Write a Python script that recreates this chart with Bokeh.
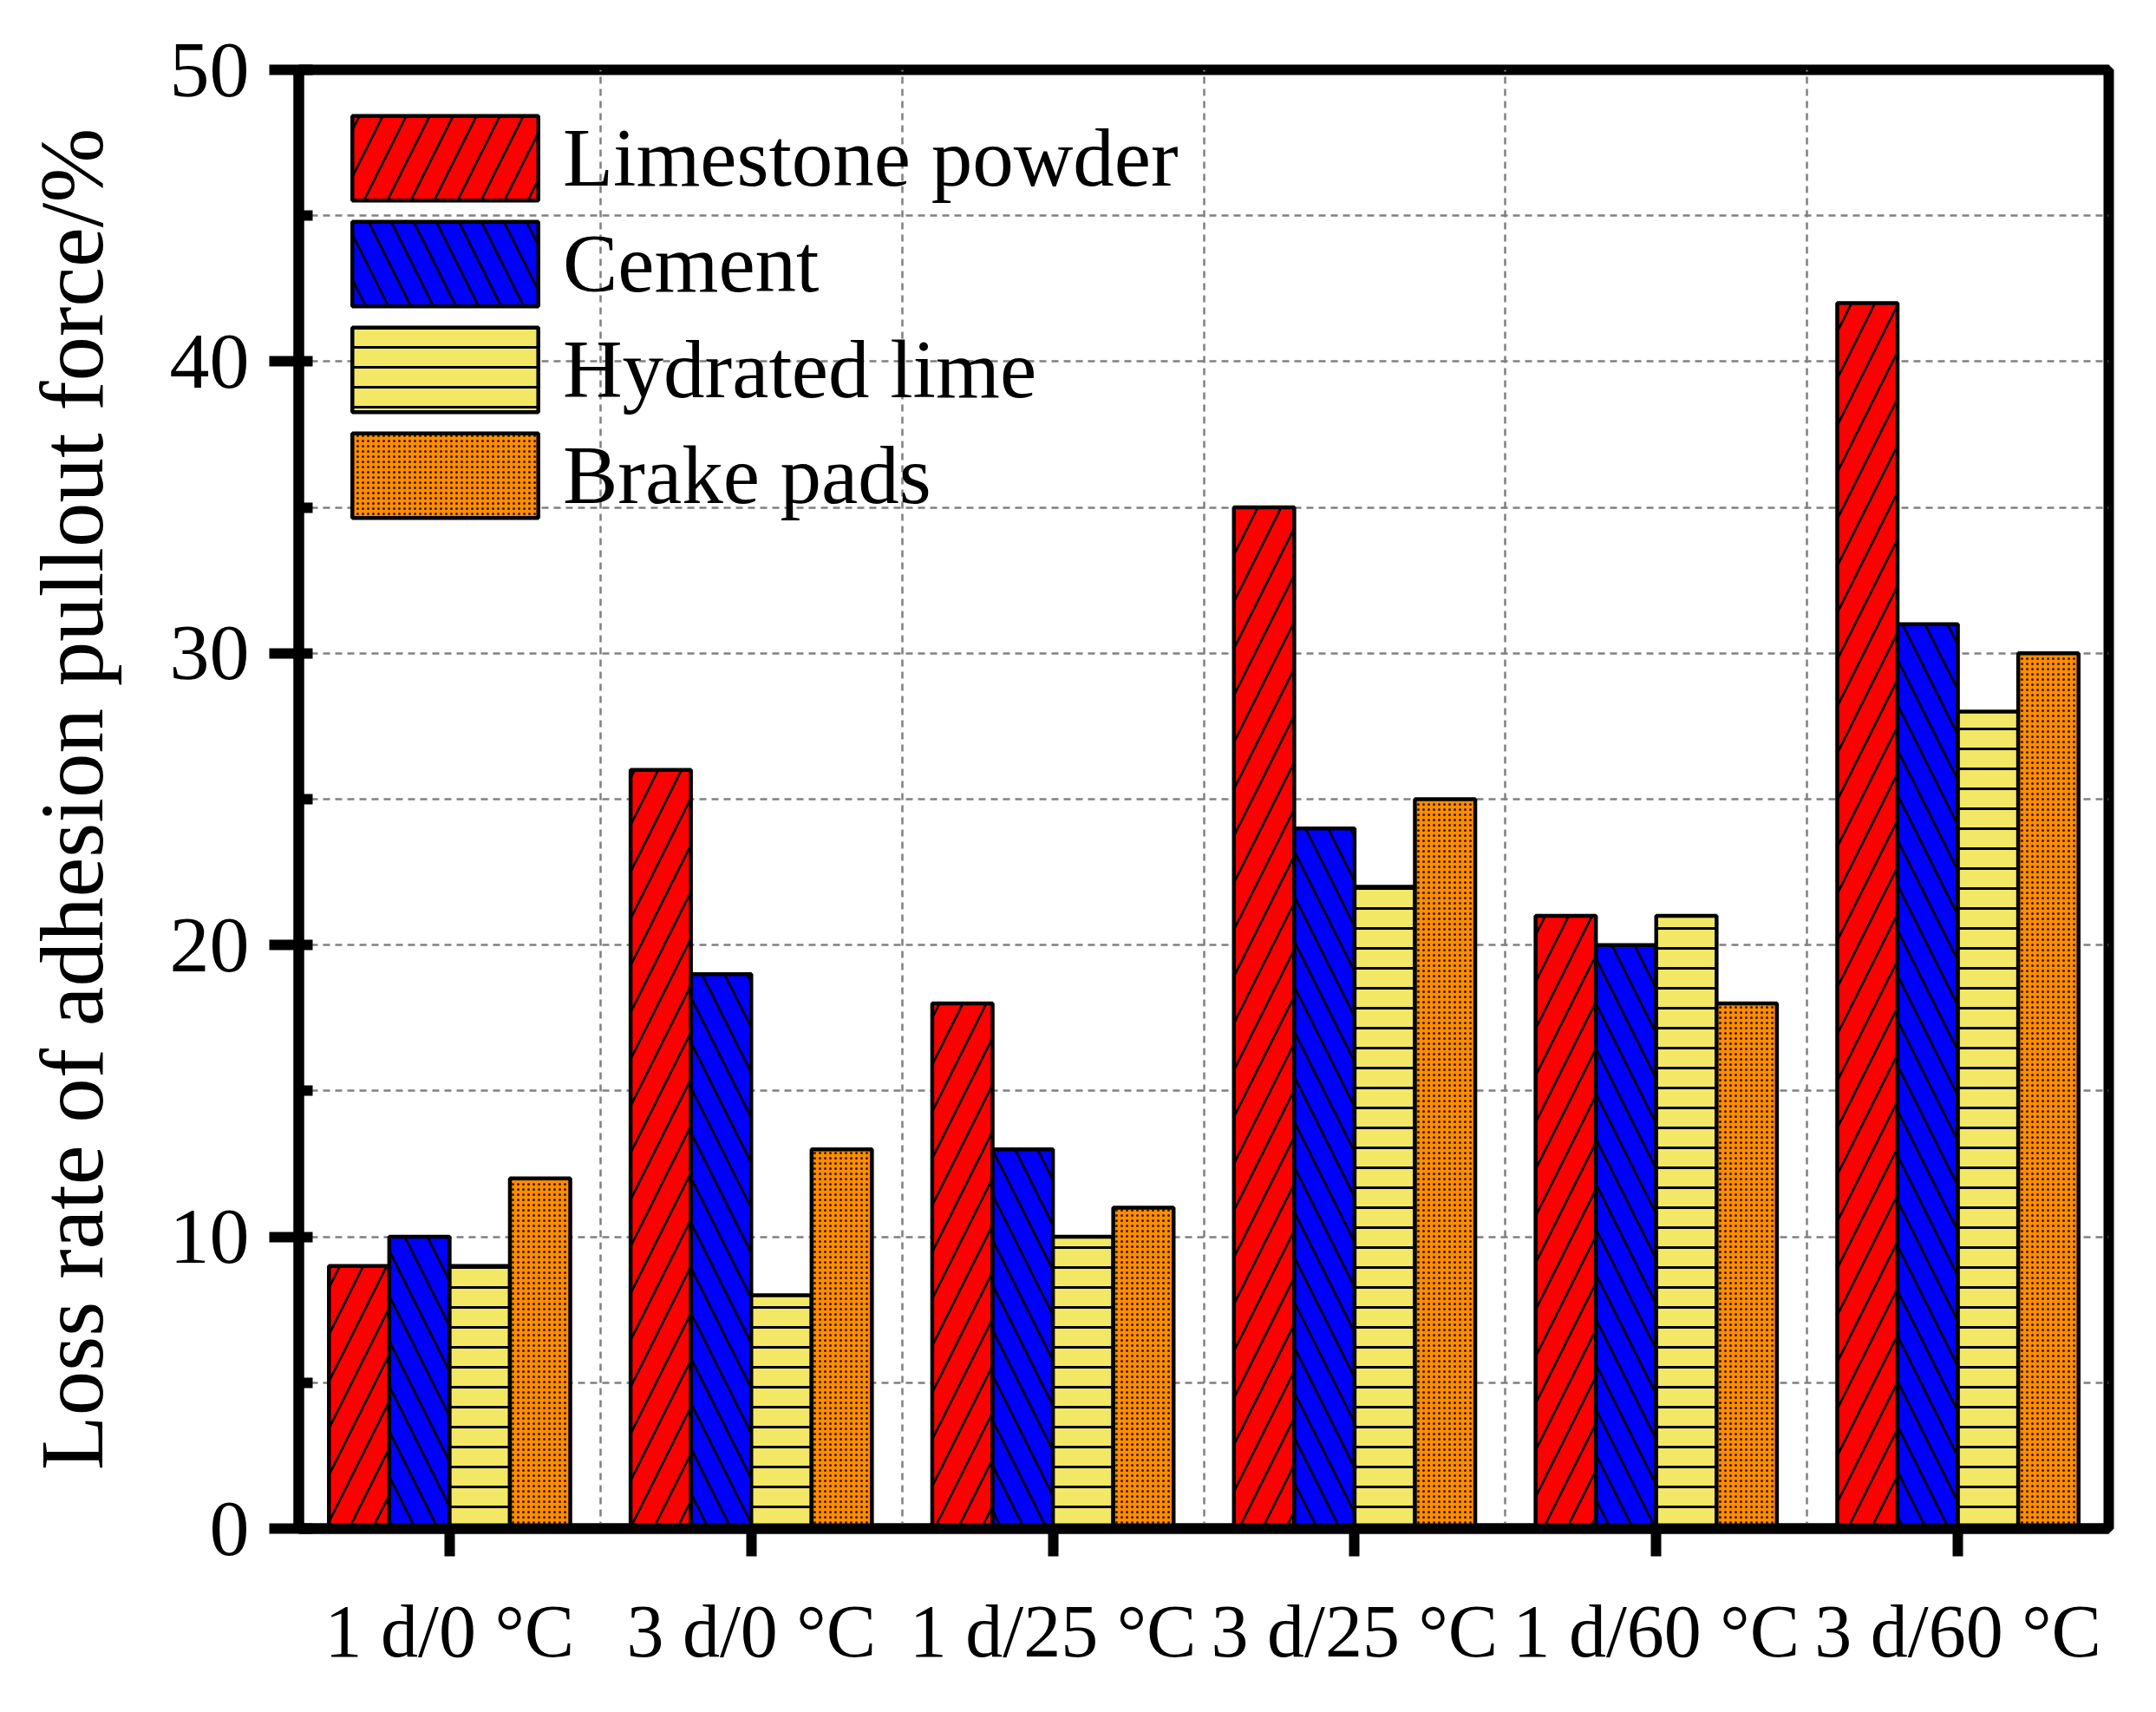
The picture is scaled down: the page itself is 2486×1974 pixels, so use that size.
from bokeh.plotting import figure
from bokeh.models import ColumnDataSource, FactorRange, Range1d, SingleIntervalTicker, FixedTicker
from bokeh.core.properties import value
from bokeh.transform import dodge
from bokeh.embed import file_html
from bokeh.resources import INLINE

categories = ["1 d/0 °C", "3 d/0 °C", "1 d/25 °C", "3 d/25 °C", "1 d/60 °C", "3 d/60 °C"]
limestone = [9, 26, 18, 35, 21, 42]
cement = [10, 19, 13, 24, 20, 31]
hydrated_lime = [9, 8, 10, 22, 21, 28]
brake_pads = [12, 13, 11, 25, 18, 30]

src = ColumnDataSource(dict(cat=categories, lp=limestone, ce=cement, hl=hydrated_lime, bp=brake_pads))

FONT = "Liberation Serif"

p = figure(x_range=FactorRange(*categories, range_padding=0), y_range=Range1d(0, 50),
           width=2470, height=1956, output_backend="svg", toolbar_location=None,
           min_border_left=344, min_border_top=80, min_border_right=39, min_border_bottom=194)

series = [
    ("lp", "Limestone powder", "#ff0000", "/", 54, 2.7, 1.0, -0.3),
    ("ce", "Cement", "#0000ff", "\\", 52, 2.7, 1.0, -0.1),
    ("hl", "Hydrated lime", "#f2e866", "-", 23, 3, 1.0, 0.1),
    ("bp", "Brake pads", "#ff8c00", ".", 6, 1, 0.8, 0.3),
]
for col, name, color, hatch, scale, weight, alpha, off in series:
    p.vbar(x=dodge("cat", off, range=p.x_range), top=col, width=0.2, source=src,
           fill_color=color, line_color="black", line_width=4.5,
           hatch_pattern=value(hatch), hatch_color="black", hatch_scale=scale,
           hatch_weight=weight, hatch_alpha=alpha,
           legend_label=name)

# frame
p.outline_line_color = "black"
p.outline_line_width = 12
p.outline_line_alpha = 1

# y axis
yax = p.yaxis[0]
yax.ticker = SingleIntervalTicker(interval=10, num_minor_ticks=2)
yax.axis_line_width = 12
yax.major_tick_line_width = 12
yax.minor_tick_line_width = 12
yax.major_tick_out = 34
yax.major_tick_in = 0
yax.minor_tick_in = 16
yax.minor_tick_out = 0
yax.major_label_standoff = 23
yax.major_label_text_font = FONT
yax.major_label_text_font_size = "92px"
yax.major_label_text_color = "black"
yax.axis_label = "Loss rate of adhesion pullout force/%"
yax.axis_label_text_font = FONT
yax.axis_label_text_font_size = "103px"
yax.axis_label_text_font_style = "normal"
yax.axis_label_text_color = "black"
yax.axis_label_standoff = 53

# x axis
xax = p.xaxis[0]
xax.axis_line_width = 12
xax.major_tick_line_width = 12
xax.major_tick_out = 32
xax.major_tick_in = 0
xax.major_label_standoff = 38
xax.major_label_text_font = FONT
xax.major_label_text_font_size = "86px"
xax.major_label_text_color = "black"
xax.major_label_orientation = "horizontal"

# grids
p.ygrid.ticker = SingleIntervalTicker(interval=5)
p.ygrid.grid_line_color = "#808080"
p.ygrid.grid_line_width = 2.5
p.ygrid.grid_line_dash = "8 6"
p.xgrid.ticker = FixedTicker(ticks=[1, 2, 3, 4, 5])
p.xgrid.grid_line_color = "#808080"
p.xgrid.grid_line_width = 2.5
p.xgrid.grid_line_dash = "8 6"

# legend (bokeh insets the area glyph by 10% on each side)
lg = p.legend[0]
lg.padding = 0
lg.margin = 0
lg.spacing = 0
lg.glyph_width = 268
lg.glyph_height = 122
lg.location = (35, 1682 - 41 - 4 * 122)
lg.label_standoff = 2
lg.label_text_font = FONT
lg.label_text_font_size = "95px"
lg.label_text_color = "black"
lg.background_fill_alpha = 0
lg.border_line_alpha = 0

open("out.html", "w").write(file_html(p, INLINE))
